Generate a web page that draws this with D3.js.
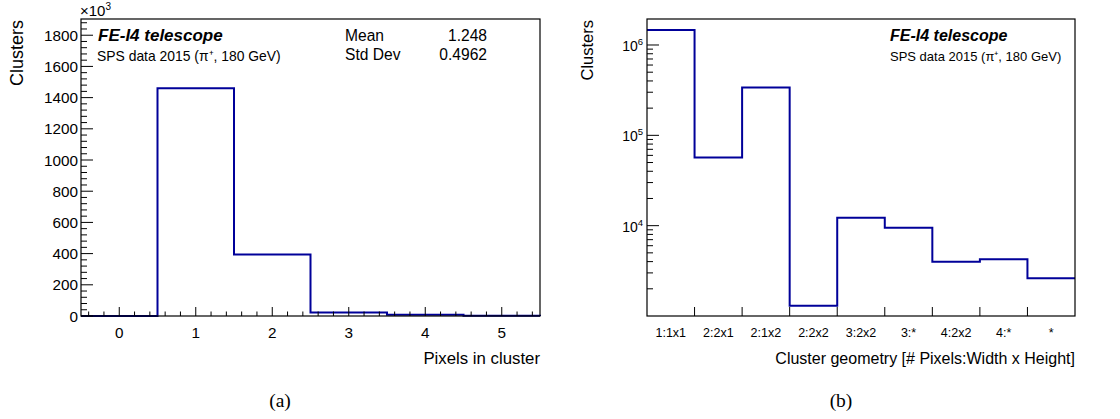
<!DOCTYPE html>
<html><head><meta charset="utf-8">
<script src="https://cdn.jsdelivr.net/npm/d3@7"></script>
<style>body{margin:0;background:#fff}svg{display:block}</style>
</head><body>
<svg id="c" width="1120" height="419"></svg>
<script>
// ---- data (panel a) ----
const pixelBins = [0, 1, 2, 3, 4, 5];
const pixelCounts = [0, 1460, 395, 22, 8, 1.5];   // x10^3 clusters
const statsLabels = ["Mean", "Std Dev"];
const statsValues = ["1.248", "0.4962"];
// ---- data (panel b) ----
const geomLabels = ["1:1x1", "2:2x1", "2:1x2", "2:2x2", "3:2x2", "3:*", "4:2x2", "4:*", "*"];
const geomCounts = [1466000, 56800, 338000, 1300, 12200, 9500, 3980, 4240, 2620];
const titleText = "FE-I4 telescope";
const subText = "SPS data 2015 (\u03c0\u207a, 180 GeV)";

const svg = d3.select("#c");
const font = "'Liberation Sans', Arial, Helvetica, sans-serif";
const serif = "'Liberation Serif', 'Times New Roman', serif";
const lineColor = "#000099";

function stepPath(x, y, edges, vals, base) {
  const p = d3.path();
  p.moveTo(x(edges[0]), y(base));
  vals.forEach((v, i) => {
    p.lineTo(x(edges[i]), y(v));
    p.lineTo(x(edges[i + 1]), y(v));
  });
  p.lineTo(x(edges[edges.length - 1]), y(base));
  return p.toString();
}

// ================= Panel (a) =================
{
  const L = 81, R = 540, T = 19, B = 316;
  const x = d3.scaleLinear().domain([-0.5, 5.5]).range([L, R]);
  const y = d3.scaleLinear().domain([0, 1904]).range([B, T]);
  const g = svg.append("g");

  const edges = pixelBins.map(b => b - 0.5).concat([pixelBins[pixelBins.length - 1] + 0.5]);
  g.append("path").attr("d", stepPath(x, y, edges, pixelCounts, 0))
    .attr("fill", "none").attr("stroke", lineColor).attr("stroke-width", 2);

  g.append("rect").attr("x", L).attr("y", T).attr("width", R - L).attr("height", B - T)
    .attr("fill", "none").attr("stroke", "#000").attr("stroke-width", 1.2);

  // y ticks
  const yMajor = d3.range(0, 1801, 200);
  const yMinor = d3.range(0, 1901, 40).filter(v => v % 200 !== 0);
  yMajor.forEach(v => g.append("line").attr("x1", L).attr("x2", L + 12).attr("y1", y(v)).attr("y2", y(v)).attr("stroke", "#000"));
  yMinor.forEach(v => g.append("line").attr("x1", L).attr("x2", L + 6).attr("y1", y(v)).attr("y2", y(v)).attr("stroke", "#000"));
  yMajor.forEach(v => g.append("text").attr("x", L - 3).attr("y", y(v) + 5.5).attr("text-anchor", "end")
    .attr("font-family", font).attr("font-size", 15.3).text(v));
  const ex = g.append("text").attr("x", L - 1).attr("y", T - 3).attr("font-family", font).attr("font-size", 15);
  ex.append("tspan").text("\u00d710");
  ex.append("tspan").attr("dy", -6).attr("font-size", 10).text("3");

  // x ticks
  const xMajor = d3.range(0, 6, 1);
  const xMinor = d3.range(-0.4, 5.5, 0.2).filter(v => Math.abs(v - Math.round(v)) > 0.01);
  xMajor.forEach(v => g.append("line").attr("x1", x(v)).attr("x2", x(v)).attr("y1", B).attr("y2", B - 9).attr("stroke", "#000"));
  xMinor.forEach(v => g.append("line").attr("x1", x(v)).attr("x2", x(v)).attr("y1", B).attr("y2", B - 4.5).attr("stroke", "#000"));
  xMajor.forEach(v => g.append("text").attr("x", x(v)).attr("y", 338).attr("text-anchor", "middle")
    .attr("font-family", font).attr("font-size", 15.3).text(v));

  // axis titles
  g.append("text").attr("x", R).attr("y", 364).attr("text-anchor", "end")
    .attr("font-family", font).attr("font-size", 16.8).text("Pixels in cluster");
  g.append("text").attr("transform", `translate(23,${T + 1}) rotate(-90)`).attr("text-anchor", "end")
    .attr("font-family", font).attr("font-size", 18).text("Clusters");

  // labels
  g.append("text").attr("x", 98).attr("y", 41).attr("font-family", font).attr("font-size", 17)
    .attr("font-weight", "bold").attr("font-style", "italic").text(titleText);
  g.append("text").attr("x", 97).attr("y", 61).attr("font-family", font).attr("font-size", 13.9).text(subText);

  statsLabels.forEach((s, i) => {
    g.append("text").attr("x", 345).attr("y", 41 + i * 19).attr("font-family", font).attr("font-size", 15.6).text(s);
    g.append("text").attr("x", 487).attr("y", 41 + i * 19).attr("text-anchor", "end").attr("font-family", font).attr("font-size", 15.6).text(statsValues[i]);
  });

  svg.append("text").attr("x", 280).attr("y", 407).attr("text-anchor", "middle")
    .attr("font-family", serif).attr("font-size", 19.5).text("(a)");
}

// ================= Panel (b) =================
{
  const L = 647, R = 1075, T = 19, B = 316;
  const x = d3.scaleLinear().domain([0, geomLabels.length]).range([L, R]);
  const y = d3.scaleLog().domain([1000, 1.94e6]).range([B, T]);
  const g = svg.append("g");

  const edges = d3.range(0, geomLabels.length + 1);
  const p = d3.path();
  p.moveTo(x(0), y(geomCounts[0]));
  geomCounts.forEach((v, i) => {
    p.lineTo(x(i), y(v));
    p.lineTo(x(i + 1), y(v));
  });
  g.append("path").attr("d", p.toString()).attr("fill", "none").attr("stroke", lineColor).attr("stroke-width", 2);

  g.append("rect").attr("x", L).attr("y", T).attr("width", R - L).attr("height", B - T)
    .attr("fill", "none").attr("stroke", "#000").attr("stroke-width", 1.2);

  // y log ticks
  [1e4, 1e5, 1e6].forEach(v => g.append("line").attr("x1", L).attr("x2", L + 12).attr("y1", y(v)).attr("y2", y(v)).attr("stroke", "#000"));
  const minors = [];
  [1e3, 1e4, 1e5, 1e6].forEach(d => d3.range(2, 10).forEach(k => { const v = d * k; if (v > 1000 && v < 1.94e6) minors.push(v); }));
  minors.forEach(v => g.append("line").attr("x1", L).attr("x2", L + 6).attr("y1", y(v)).attr("y2", y(v)).attr("stroke", "#000"));
  [[1e4, 4], [1e5, 5], [1e6, 6]].forEach(([v, e]) => {
    const t = g.append("text").attr("x", L - 4).attr("y", y(v) + 6).attr("text-anchor", "end")
      .attr("font-family", font).attr("font-size", 14);
    t.append("tspan").text("10");
    t.append("tspan").attr("dy", -6).attr("font-size", 9.5).text(e);
  });

  // x ticks at bin edges
  edges.slice(1, -1).forEach(v => g.append("line").attr("x1", x(v)).attr("x2", x(v)).attr("y1", B).attr("y2", B - 9).attr("stroke", "#000"));
  geomLabels.forEach((s, i) => g.append("text").attr("x", x(i + 0.5)).attr("y", 337).attr("text-anchor", "middle")
    .attr("font-family", font).attr("font-size", 12.5).text(s));

  g.append("text").attr("x", R).attr("y", 364).attr("text-anchor", "end")
    .attr("font-family", font).attr("font-size", 16).text("Cluster geometry [# Pixels:Width x Height]");
  g.append("text").attr("transform", `translate(593,${T + 1}) rotate(-90)`).attr("text-anchor", "end")
    .attr("font-family", font).attr("font-size", 16.5).text("Clusters");

  g.append("text").attr("x", 890).attr("y", 41).attr("font-family", font).attr("font-size", 16)
    .attr("font-weight", "bold").attr("font-style", "italic").text(titleText);
  g.append("text").attr("x", 890).attr("y", 61).attr("font-family", font).attr("font-size", 13).text(subText);

  svg.append("text").attr("x", 841).attr("y", 407).attr("text-anchor", "middle")
    .attr("font-family", serif).attr("font-size", 19.5).text("(b)");
}
</script>
</body></html>
